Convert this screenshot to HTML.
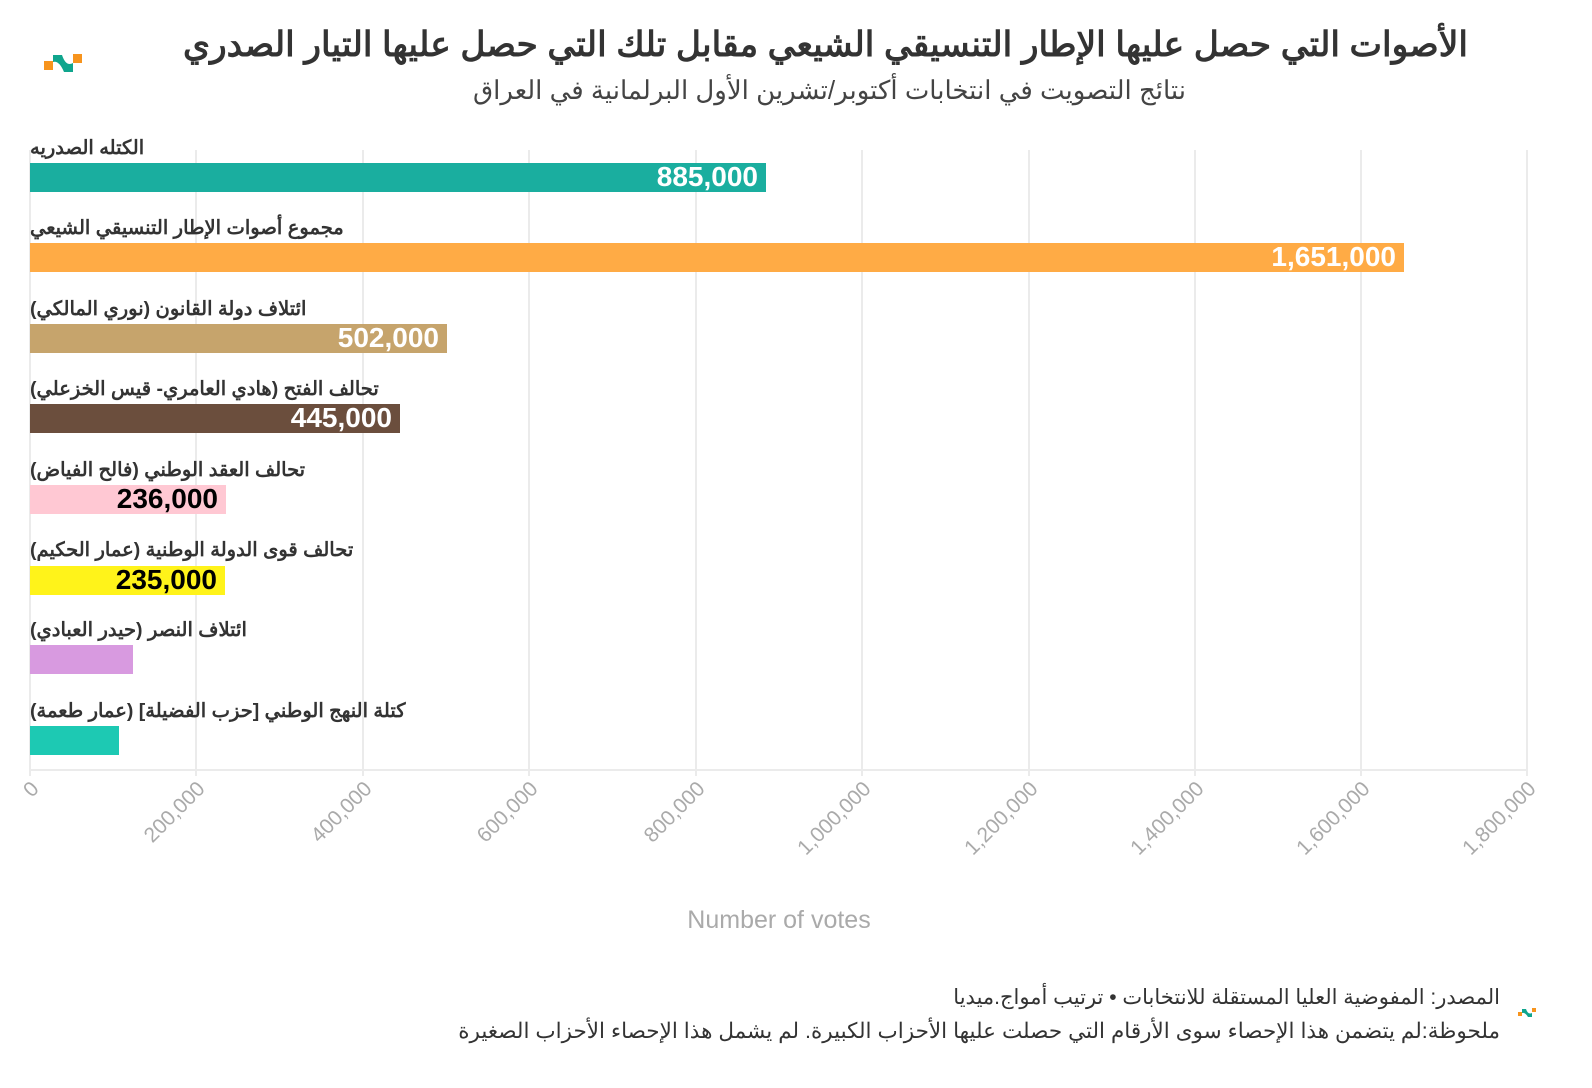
<!DOCTYPE html>
<html><head><meta charset="utf-8"><style>
body{margin:0;background:#fff;width:1592px;height:1088px;position:relative;overflow:hidden;font-family:"Liberation Sans","Noto Sans CJK SC",sans-serif}
.a{position:absolute;white-space:nowrap}
.lbl{position:absolute;left:30px;font-size:19.5px;font-weight:bold;color:#333;direction:rtl;unicode-bidi:plaintext;white-space:nowrap}
.val{position:absolute;font-size:28px;font-weight:bold;white-space:nowrap;text-align:right}
</style></head><body>
<svg width="1592" height="1088" style="position:absolute;left:0;top:0">
<g fill="#f7941d"><rect x="44" y="61" width="9" height="9"/><rect x="73" y="54" width="9" height="9"/></g>
<path d="M53 55 L62 55 Q66 67 73 63 L73 72 L64 72 Q59 60 53 62Z" fill="#0fa58d"/>
<g stroke="#ebebeb" stroke-width="2">
<line x1="30" y1="150" x2="30" y2="776"/><line x1="196" y1="150" x2="196" y2="776"/><line x1="363" y1="150" x2="363" y2="776"/><line x1="529" y1="150" x2="529" y2="776"/><line x1="696" y1="150" x2="696" y2="776"/><line x1="862" y1="150" x2="862" y2="776"/><line x1="1029" y1="150" x2="1029" y2="776"/><line x1="1195" y1="150" x2="1195" y2="776"/><line x1="1361" y1="150" x2="1361" y2="776"/><line x1="1527" y1="150" x2="1527" y2="776"/>
<line x1="30" y1="770" x2="1528" y2="770"/>
</g>
<rect x="30" y="163" width="736" height="29" fill="#1aae9f"/>
<rect x="30" y="243" width="1374" height="29" fill="#ffab45"/>
<rect x="30" y="324" width="417" height="29" fill="#c6a46c"/>
<rect x="30" y="404" width="370" height="29" fill="#6b4e3d"/>
<rect x="30" y="485" width="196" height="29" fill="#ffc8d3"/>
<rect x="30" y="566" width="195" height="29" fill="#fff31a"/>
<rect x="30" y="645" width="103" height="29" fill="#d89ae0"/>
<rect x="30" y="726" width="89" height="29" fill="#1dc9b3"/>
<g font-family="Liberation Sans,sans-serif" font-size="21" fill="#aaa" text-anchor="end">
<text transform="translate(40,790) rotate(-45)">0</text>
<text transform="translate(206,790) rotate(-45)">200,000</text>
<text transform="translate(373,790) rotate(-45)">400,000</text>
<text transform="translate(539,790) rotate(-45)">600,000</text>
<text transform="translate(706,790) rotate(-45)">800,000</text>
<text transform="translate(872,790) rotate(-45)">1,000,000</text>
<text transform="translate(1039,790) rotate(-45)">1,200,000</text>
<text transform="translate(1205,790) rotate(-45)">1,400,000</text>
<text transform="translate(1371,790) rotate(-45)">1,600,000</text>
<text transform="translate(1537,790) rotate(-45)">1,800,000</text>
</g>
<text x="779" y="928" font-family="Liberation Sans,sans-serif" font-size="25" fill="#aaa" text-anchor="middle">Number of votes</text>
<g fill="#f7941d"><rect x="1518" y="1012" width="4" height="4"/><rect x="1532" y="1008" width="4" height="4"/></g>
<path d="M1522 1009 L1526 1009 Q1528 1015 1532 1013 L1532 1017 L1528 1017 Q1525 1012 1522 1013Z" fill="#0fa58d"/>
</svg>
<div class="a" style="right:124px;top:25px;font-size:34.5px;font-weight:bold;color:#333;direction:rtl">الأصوات التي حصل عليها الإطار التنسيقي الشيعي مقابل تلك التي حصل عليها التيار الصدري</div>
<div class="a" style="right:406px;top:75px;font-size:26px;color:#444;direction:rtl">نتائج التصويت في انتخابات أكتوبر/تشرين الأول البرلمانية في العراق</div>
<div class="lbl" style="top:136px">الكتله الصدريه</div>
<div class="lbl" style="top:216px">مجموع أصوات الإطار التنسيقي الشيعي</div>
<div class="lbl" style="top:297px">ائتلاف دولة القانون (نوري المالكي)</div>
<div class="lbl" style="top:377px">تحالف الفتح (هادي العامري- قيس الخزعلي)</div>
<div class="lbl" style="top:458px">تحالف العقد الوطني (فالح الفياض)</div>
<div class="lbl" style="top:538px">تحالف قوى الدولة الوطنية (عمار الحكيم)</div>
<div class="lbl" style="top:618px">ائتلاف النصر (حيدر العبادي)</div>
<div class="lbl" style="top:699px">كتلة النهج الوطني [حزب الفضيلة] (عمار طعمة)</div>
<div class="val" style="right:834px;top:161px;color:#fff">885,000</div>
<div class="val" style="right:196px;top:241px;color:#fff">1,651,000</div>
<div class="val" style="right:1153px;top:322px;color:#fff">502,000</div>
<div class="val" style="right:1200px;top:402px;color:#fff">445,000</div>
<div class="val" style="right:1374px;top:483px;color:#000">236,000</div>
<div class="val" style="right:1375px;top:564px;color:#000">235,000</div>
<div class="a" style="right:92px;top:985px;font-size:21px;color:#333;direction:rtl">المصدر: المفوضية العليا المستقلة للانتخابات • ترتيب أمواج.ميديا</div>
<div class="a" style="right:92px;top:1019px;font-size:21.5px;color:#333;direction:rtl">ملحوظة:لم يتضمن هذا الإحصاء سوى الأرقام التي حصلت عليها الأحزاب الكبيرة. لم يشمل هذا الإحصاء الأحزاب الصغيرة</div>
</body></html>
